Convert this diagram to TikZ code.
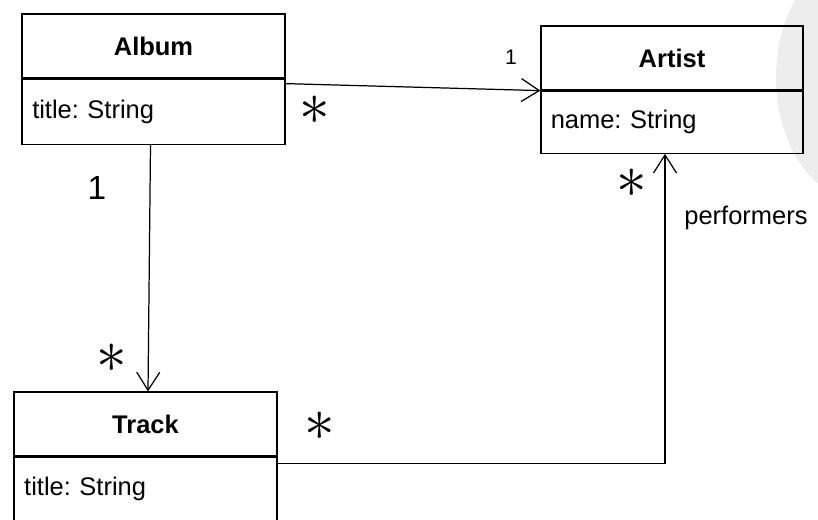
\documentclass[tikz,border=0pt]{standalone}
\usepackage{fontspec}
\setmainfont{Liberation Sans}
\frenchspacing
\usetikzlibrary{positioning,arrows.meta}

\begin{document}
\begin{tikzpicture}[line width=0.7pt, every node/.style={font=\fontsize{14.5}{16}\selectfont},
      classname/.style={draw, minimum width=5.26cm, minimum height=1.28cm, font=\fontsize{14.5}{16}\selectfont\bfseries},
      classattr/.style={draw, minimum width=5.26cm, minimum height=1.28cm, text width=4.85cm, align=left},
      assoc/.style={-{Straight Barb[length=3.6mm, width=4.6mm]}},
      mult/.style={font=\fontsize{24.88}{25}\selectfont, scale=1.4}]
  \useasboundingbox (0,0) rectangle (16.36,-10.38);
  % page shading at the right edge
  \fill[black!7] (17.2,-1.55) ellipse [x radius=1.68cm, y radius=2.45cm];

  \node[classname] (album) at (3.07,-0.92) {Album};
  \node[classattr, below=0 of album, minimum height=1.3cm] (albumattr) {title: String};
  \node[classname, minimum width=5.24cm] (artist) at (13.44,-1.16) {Artist};
  \node[classattr, below=0 of artist, minimum width=5.24cm, minimum height=1.24cm] (artistattr) {name: String};
  \node[classname] (track) at (2.91,-8.48) {Track};
  \node[classattr, below=0 of track] (trackattr) {title: String};

  \draw[assoc] ([yshift=-1mm]albumattr.north east) -- (artistattr.north west);
  \draw[assoc] ([xshift=-0.6mm]albumattr.south) -- ([xshift=0.5mm]track.north);
  \draw[assoc] ([yshift=-1.4mm]trackattr.north east) -| ([xshift=-1.4mm]artistattr.south);

  % multiplicities and role
  \node[font=\fontsize{12}{12}\selectfont] (m1) at (10.22,-1.14) {1};
  \node[mult] (m2) at (6.3,-2.2) {$\ast$};
  \node[font=\fontsize{19}{19}\selectfont] (m3) at (1.94,-3.76) {1};
  \node[mult] (m4) at (2.24,-7.16) {$\ast$};
  \node[mult] (m5) at (6.4,-8.52) {$\ast$};
  \node[mult] (m6) at (12.64,-3.66) {$\ast$};
  \node (role) at (14.92,-4.36) {performers};
\end{tikzpicture}
\end{document}
